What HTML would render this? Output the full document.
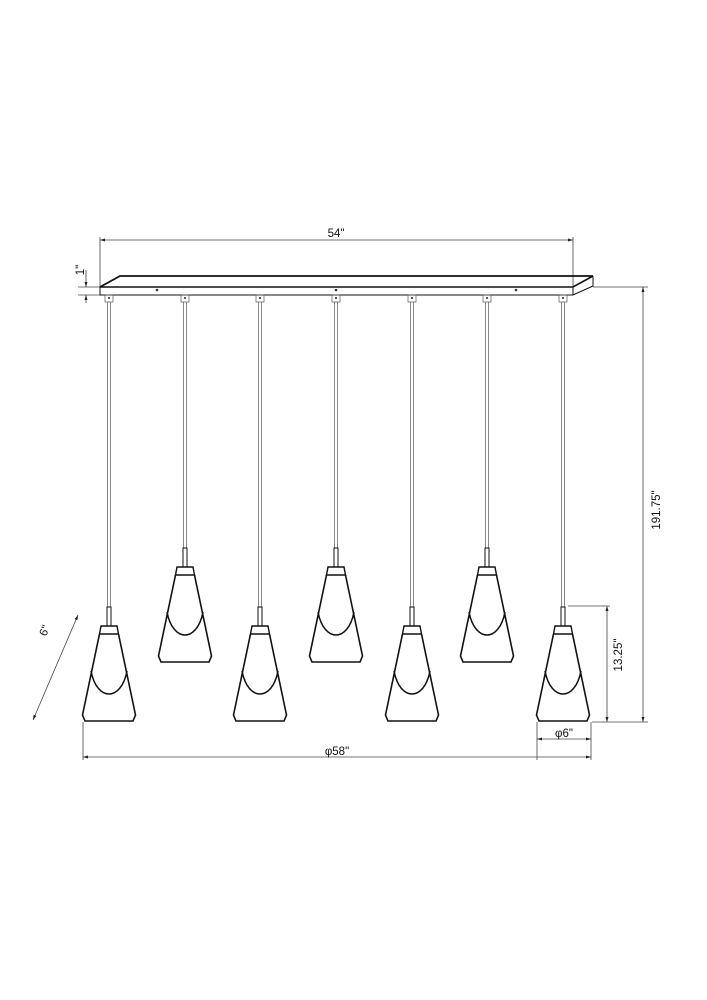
<!DOCTYPE html>
<html><head><style>body{margin:0;background:#fff}svg{display:block}</style></head><body>
<svg width="707" height="1000" viewBox="0 0 707 1000" xmlns="http://www.w3.org/2000/svg" font-family="Liberation Sans, sans-serif">
<defs>
<g id="p" fill="none" stroke="#111">
<rect x="-2" y="0" width="4" height="19" stroke-width="1"/>
<path d="M-8,19 L8,19 L9.5,27 L-9.5,27 Z" stroke-width="1.4"/>
<path d="M-9.5,27 L-26.5,108 L-24,114 L24,114 L26.5,108 L9.5,27" stroke-width="1.6"/>
<path d="M-18,64 C-15,80 -7,87 0,87 C7,87 15,80 18,64" stroke-width="1.5"/>
</g>
</defs>
<g stroke="#444" stroke-width="0.8" fill="none">
<line x1="100" y1="240" x2="573" y2="240"/>
<line x1="100" y1="237" x2="100" y2="287"/>
<line x1="573" y1="237" x2="573" y2="287"/>
<line x1="78" y1="287" x2="100" y2="287"/>
<line x1="78" y1="295" x2="100" y2="295"/>
<line x1="86" y1="270" x2="86" y2="287"/>
<line x1="86" y1="295" x2="86" y2="303"/>
<line x1="593" y1="287" x2="648" y2="287"/>
<line x1="643" y1="287" x2="643" y2="722"/>
<line x1="592" y1="722" x2="648" y2="722"/>
<line x1="568" y1="606" x2="610" y2="606"/>
<line x1="607" y1="606" x2="607" y2="722"/>
<line x1="537" y1="722" x2="537" y2="760"/>
<line x1="591" y1="722" x2="591" y2="760"/>
<line x1="537" y1="739" x2="591" y2="739"/>
<line x1="83" y1="722" x2="83" y2="760"/>
<line x1="83" y1="757" x2="591" y2="757"/>
<line x1="78" y1="615" x2="33" y2="720"/>
</g>
<g fill="#222">
<path d="M100,240 l5,-1.5 v3 z M573,240 l-5,-1.5 v3 z M86,287 l-1.5,-5 h3 z M86,295 l-1.5,5 h3 z M643,287 l-1.5,5 h3 z M643,722 l-1.5,-5 h3 z M607,606 l-1.5,5 h3 z M607,722 l-1.5,-5 h3 z M537,739 l5,-1.5 v3 z M591,739 l-5,-1.5 v3 z M83,757 l5,-1.5 v3 z M591,757 l-5,-1.5 v3 z M78,615 l-0.6,5.2 l-2.8,-1.2 z M33,720 l0.6,-5.2 l2.8,1.2 z"/>
</g>
<g stroke="#111" fill="none">
<path d="M100,287 L120,276 L593,276" stroke-width="1.8"/>
<path d="M593,276 L573,287 L100,287" stroke-width="1.6"/>
<path d="M100,287 V295 H573 L593,286 V276" stroke-width="1"/>
<line x1="573" y1="287" x2="573" y2="295" stroke-width="1"/>
</g>
<g fill="#333"><circle cx="157" cy="290" r="1.3"/><circle cx="336" cy="290" r="1.3"/><circle cx="516" cy="290" r="1.3"/></g>
<g stroke="#555" stroke-width="0.7" fill="none">
<rect x="105" y="295" width="8" height="7"/><line x1="107.5" y1="302" x2="107.5" y2="607"/><line x1="110.5" y1="302" x2="110.5" y2="607"/>
<rect x="181" y="295" width="8" height="7"/><line x1="183.5" y1="302" x2="183.5" y2="548"/><line x1="186.5" y1="302" x2="186.5" y2="548"/>
<rect x="256" y="295" width="8" height="7"/><line x1="258.5" y1="302" x2="258.5" y2="607"/><line x1="261.5" y1="302" x2="261.5" y2="607"/>
<rect x="332" y="295" width="8" height="7"/><line x1="334.5" y1="302" x2="334.5" y2="548"/><line x1="337.5" y1="302" x2="337.5" y2="548"/>
<rect x="408" y="295" width="8" height="7"/><line x1="410.5" y1="302" x2="410.5" y2="607"/><line x1="413.5" y1="302" x2="413.5" y2="607"/>
<rect x="483" y="295" width="8" height="7"/><line x1="485.5" y1="302" x2="485.5" y2="548"/><line x1="488.5" y1="302" x2="488.5" y2="548"/>
<rect x="559" y="295" width="8" height="7"/><line x1="561.5" y1="302" x2="561.5" y2="607"/><line x1="564.5" y1="302" x2="564.5" y2="607"/>
</g>
<g fill="#222"><circle cx="109" cy="298" r="1"/><circle cx="185" cy="298" r="1"/><circle cx="260" cy="298" r="1"/><circle cx="336" cy="298" r="1"/><circle cx="412" cy="298" r="1"/><circle cx="487" cy="298" r="1"/><circle cx="563" cy="298" r="1"/></g>
<use href="#p" x="109" y="607"/>
<use href="#p" x="185" y="548"/>
<use href="#p" x="260" y="607"/>
<use href="#p" x="336" y="548"/>
<use href="#p" x="412" y="607"/>
<use href="#p" x="487" y="548"/>
<use href="#p" x="563" y="607"/>
<g font-size="11.5" fill="#111">
<text x="336" y="237" text-anchor="middle">54"</text>
<text transform="translate(84,270) rotate(-90)" text-anchor="middle">1"</text>
<text transform="translate(660,510) rotate(-90)" text-anchor="middle">191.75"</text>
<text transform="translate(622,655) rotate(-90)" text-anchor="middle">13.25"</text>
<text x="564" y="737" text-anchor="middle">φ6"</text>
<text x="337" y="755" text-anchor="middle">φ58"</text>
<text transform="translate(48,632) rotate(-67)" text-anchor="middle">6"</text>
</g>
</svg>
</body></html>
